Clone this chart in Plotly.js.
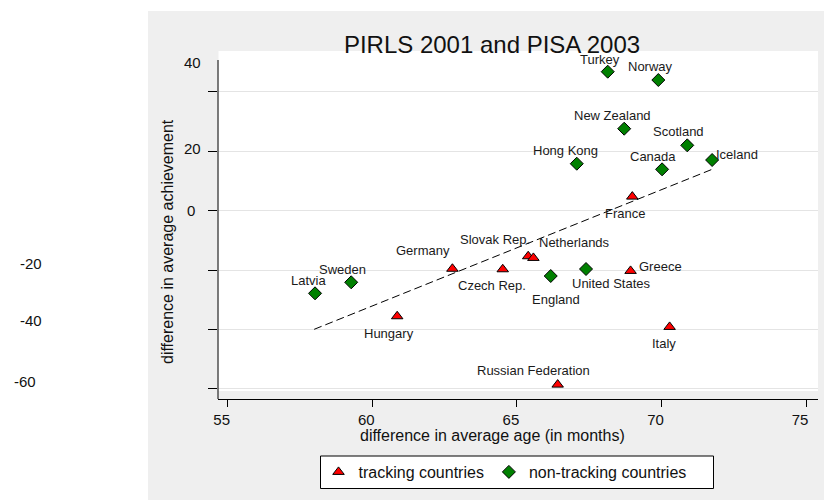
<!DOCTYPE html>
<html><head><meta charset="utf-8">
<script src="https://cdn.plot.ly/plotly-3.0.1.min.js"></script>
<style>html,body{margin:0;padding:0;background:#fff}#chart{width:824px;height:502px}</style>
</head><body><div id="chart"></div>
<script>
// ---- data ----
const trackingNames = ['France','Hungary','Germany','Czech Rep.','Slovak Rep.','Netherlands','Greece','Italy','Russian Federation'];
const trackingAge   = [68.99, 60.86, 62.77, 64.51, 65.39, 65.57, 68.93, 70.28, 66.41];
const trackingAch   = [4.71, -35.57, -19.58, -19.75, -15.37, -15.93, -20.3, -39.16, -58.59];

const nonTrackingNames = ['Turkey','Norway','New Zealand','Scotland','Hong Kong','Canada','Iceland','Latvia','Sweden','England','United States'];
const nonTrackingAge   = [68.14, 69.89, 68.71, 70.89, 67.07, 70.02, 71.75, 58.02, 59.27, 66.17, 67.39];
const nonTrackingAch   = [46.77, 43.97, 27.58, 21.98, 15.79, 13.9, 17.04, -27.85, -24.14, -22.02, -19.66];

const fitAge = [57.99, 71.75];
const fitAch = [-39.97, 13.9];

const xTickVals = [55, 60, 65, 70, 75];
const yTickVals = [40, 20, 0, -20, -40, -60];
const yTickText = ['40', '20', '0', '-20', '-40', '-60'];

const titleText = 'PIRLS 2001 and PISA 2003';
const xTitle = 'difference in average age (in months)';
const yTitle = 'difference in average achievement';

// ---- layout geometry (pixels) ----
const W = 824, H = 502, L = 218, R = 6, T = 51, B = 103;
const plotW = W - L - R, plotH = H - T - B;
const px = v => (v - L) / plotW;
const py = v => (H - B - v) / plotH;
const FONT = '"Liberation Sans", Arial, Helvetica, sans-serif';

// label offsets [dx, dy] in px (dy positive = downward)
const labelOffset = {
  'France': [-7.6, 16.7], 'Hungary': [-8.3, 17.4], 'Germany': [-29.3, -18], 'Czech Rep.': [-10.5, 16.4],
  'Slovak Rep.': [-33.3, -17], 'Netherlands': [40.9, -15.2], 'Greece': [30.3, -4.9], 'Italy': [-5.9, 16.4],
  'Russian Federation': [-24.4, -14.6],
  'Turkey': [-7.4, -12.7], 'Norway': [-7.8, -13.3], 'New Zealand': [-11.5, -13], 'Scotland': [-9, -13.6],
  'Hong Kong': [-10.9, -13], 'Canada': [-8.7, -12.6], 'Iceland': [24.7, -5.7], 'Latvia': [-7, -12.6],
  'Sweden': [-8.3, -13], 'England': [4.8, 23.3], 'United States': [25.7, 14.3]
};
// y tick label positions (px, as drawn in reference)
const yTickLabelPos = [[192, 62.3], [192, 148.3], [191.2, 210.7], [31.3, 263.3], [30.7, 320.7], [24.7, 381]];

const traces = [
  {x: fitAge, y: fitAch, mode: 'lines', type: 'scatter', showlegend: false, hoverinfo: 'skip',
   line: {color: '#000', width: 1, dash: '8px,4px'}},
  {x: trackingAge, y: trackingAch, mode: 'markers', type: 'scatter', name: 'tracking countries', text: trackingNames,
   marker: {symbol: 'triangle-up', size: 10, color: '#ff0000', line: {color: '#000', width: 1}}},
  {x: nonTrackingAge, y: nonTrackingAch, mode: 'markers', type: 'scatter', name: 'non-tracking countries', text: nonTrackingNames,
   marker: {symbol: 'diamond', size: 10, color: '#008000', line: {color: '#000', width: 1}}}
];

const annotations = [];
function addLabels(names, xs, ys) {
  names.forEach((n, i) => {
    const o = labelOffset[n] || [0, -13];
    annotations.push({x: xs[i], y: ys[i], xref: 'x', yref: 'y', text: n, showarrow: false,
      xanchor: 'center', yanchor: 'middle', xshift: o[0], yshift: -o[1],
      font: {family: FONT, size: 13, color: '#1a1a1a'}});
  });
}
addLabels(trackingNames, trackingAge, trackingAch);
addLabels(nonTrackingNames, nonTrackingAge, nonTrackingAch);

yTickText.forEach((t, i) => {
  const p = yTickLabelPos[i];
  annotations.push({x: px(p[0]), y: py(p[1]), xref: 'paper', yref: 'paper', text: t, showarrow: false,
    xanchor: 'center', yanchor: 'middle', font: {family: FONT, size: 15, color: '#111'}});
});
annotations.push({x: px(167), y: py(242), xref: 'paper', yref: 'paper', text: yTitle, showarrow: false,
  textangle: -90, xanchor: 'center', yanchor: 'middle', font: {family: FONT, size: 16, color: '#111'}});
annotations.push({x: px(492), y: py(436), xref: 'paper', yref: 'paper', text: xTitle, showarrow: false,
  xanchor: 'center', yanchor: 'middle', font: {family: FONT, size: 16, color: '#111'}});

const shapes = [
  {type: 'rect', xref: 'paper', yref: 'paper', x0: px(148), x1: px(824), y0: py(500), y1: py(11),
   fillcolor: '#efefef', line: {width: 0}, layer: 'below'},
  {type: 'rect', xref: 'paper', yref: 'paper', x0: px(218.5), x1: px(818), y0: py(391), y1: py(51),
   fillcolor: '#ffffff', line: {width: 0}, layer: 'below'},
  // legend frame
  {type: 'rect', xref: 'paper', yref: 'paper', x0: px(320.5), x1: px(713.5), y0: py(488.5), y1: py(456),
   fillcolor: '#ffffff', line: {color: '#000', width: 1}, layer: 'below'},
  {type: 'line', xref: 'paper', yref: 'paper', x0: 0, x1: 0, y0: 0, y1: py(60),
   line: {color: '#000', width: 1}}
];

const layout = {
  width: W, height: H,
  margin: {l: L, r: R, t: T, b: B, pad: 0},
  paper_bgcolor: '#ffffff', plot_bgcolor: 'rgba(0,0,0,0)',
  font: {family: FONT, color: '#111'},
  title: {text: titleText, font: {family: FONT, size: 24, color: '#111'},
          xref: 'container', yref: 'container', x: 492 / W, xanchor: 'center', y: 1 - 44.5 / H, yanchor: 'middle'},
  xaxis: {range: [54.6646, 75.411], tickvals: xTickVals, ticktext: xTickVals.map(String),
          ticks: 'outside', ticklen: 7, tickcolor: '#000', tickwidth: 1,
          showline: true, linecolor: '#000', linewidth: 1, showgrid: false, zeroline: false,
          tickfont: {family: FONT, size: 15, color: '#111'}, ticklabelshift: -6},
  yaxis: {range: [-63.43, 53.74], tickvals: yTickVals, showticklabels: false,
          ticks: 'outside', ticklen: 9, tickcolor: '#000', tickwidth: 1,
          showline: false, showgrid: true, gridcolor: '#e4e4e4', gridwidth: 1, zeroline: false},
  legend: {orientation: 'h', x: px(318.5), xanchor: 'left', y: py(472), yanchor: 'middle',
           bgcolor: 'rgba(0,0,0,0)', borderwidth: 0,
           font: {family: FONT, size: 16, color: '#111'}},
  annotations: annotations,
  shapes: shapes,
  hovermode: false
};

Plotly.newPlot('chart', traces, layout, {displayModeBar: false, staticPlot: true});
</script>
</body></html>
